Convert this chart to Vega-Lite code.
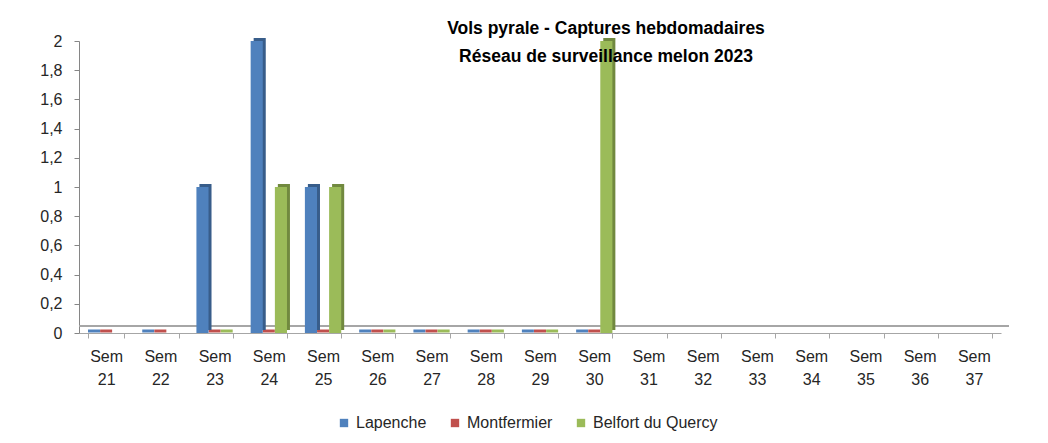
{
  "$schema": "https://vega.github.io/schema/vega-lite/v6.json",
  "width": 922,
  "height": 292,
  "autosize": {"type": "none"},
  "padding": {"left": 79, "top": 41, "right": 47, "bottom": 110},
  "background": "white",
  "config": {
    "locale": {"number": {"decimal": ",", "thousands": " ", "grouping": [3], "currency": ["", " €"]}},
    "view": {"stroke": null},
    "font": "Liberation Sans",
    "axisY": {
      "title": null,
      "values": [0, 0.2, 0.4, 0.6, 0.8, 1, 1.2, 1.4, 1.6, 1.8, 2],
      "format": ".1~f",
      "grid": false,
      "labelOverlap": false,
      "domainColor": "#868686",
      "tickColor": "#868686",
      "tickSize": 5,
      "labelFontSize": 16,
      "labelColor": "#262626",
      "labelPadding": 12
    },
    "legend": {
      "title": null,
      "orient": "none",
      "legendX": 257,
      "legendY": 374,
      "direction": "horizontal",
      "symbolType": "square",
      "symbolSize": 70,
      "symbolStrokeWidth": 0,
      "symbolOpacity": 1,
      "labelFontSize": 16,
      "labelColor": "#262626",
      "columnPadding": 20
    }
  },
  "title": {
    "text": ["Vols pyrale - Captures hebdomadaires", "Réseau de surveillance melon 2023"],
    "anchor": "middle",
    "dx": 66,
    "offset": -32,
    "fontSize": 17.5,
    "fontWeight": "bold",
    "color": "#000000",
    "lineHeight": 28
  },
  "data": {
    "values": [
      {"semaine": "Sem 21", "site": "Lapenche", "v": 0},
      {"semaine": "Sem 22", "site": "Lapenche", "v": 0},
      {"semaine": "Sem 23", "site": "Lapenche", "v": 1},
      {"semaine": "Sem 24", "site": "Lapenche", "v": 2},
      {"semaine": "Sem 25", "site": "Lapenche", "v": 1},
      {"semaine": "Sem 26", "site": "Lapenche", "v": 0},
      {"semaine": "Sem 27", "site": "Lapenche", "v": 0},
      {"semaine": "Sem 28", "site": "Lapenche", "v": 0},
      {"semaine": "Sem 29", "site": "Lapenche", "v": 0},
      {"semaine": "Sem 30", "site": "Lapenche", "v": 0},
      {"semaine": "Sem 21", "site": "Montfermier", "v": 0},
      {"semaine": "Sem 22", "site": "Montfermier", "v": 0},
      {"semaine": "Sem 23", "site": "Montfermier", "v": 0},
      {"semaine": "Sem 24", "site": "Montfermier", "v": 0},
      {"semaine": "Sem 25", "site": "Montfermier", "v": 0},
      {"semaine": "Sem 26", "site": "Montfermier", "v": 0},
      {"semaine": "Sem 27", "site": "Montfermier", "v": 0},
      {"semaine": "Sem 28", "site": "Montfermier", "v": 0},
      {"semaine": "Sem 29", "site": "Montfermier", "v": 0},
      {"semaine": "Sem 30", "site": "Montfermier", "v": 0},
      {"semaine": "Sem 23", "site": "Belfort du Quercy", "v": 0},
      {"semaine": "Sem 24", "site": "Belfort du Quercy", "v": 1},
      {"semaine": "Sem 25", "site": "Belfort du Quercy", "v": 1},
      {"semaine": "Sem 26", "site": "Belfort du Quercy", "v": 0},
      {"semaine": "Sem 27", "site": "Belfort du Quercy", "v": 0},
      {"semaine": "Sem 28", "site": "Belfort du Quercy", "v": 0},
      {"semaine": "Sem 29", "site": "Belfort du Quercy", "v": 0},
      {"semaine": "Sem 30", "site": "Belfort du Quercy", "v": 2}
    ]
  },
  "encoding": {
    "x": {
      "field": "semaine",
      "type": "nominal",
      "scale": {
        "domain": ["Sem 21", "Sem 22", "Sem 23", "Sem 24", "Sem 25", "Sem 26", "Sem 27", "Sem 28", "Sem 29", "Sem 30", "Sem 31", "Sem 32", "Sem 33", "Sem 34", "Sem 35", "Sem 36", "Sem 37"],
        "paddingInner": 0.33,
        "paddingOuter": 0.165
      },
      "axis": {
        "title": null,
        "labelAngle": 0,
        "labelExpr": "split(datum.label, ' ')",
        "labelFontSize": 16,
        "labelColor": "#262626",
        "labelLineHeight": 23,
        "labelPadding": 10,
        "labelBaseline": "top",
        "domainColor": "#A6A6A6",
        "tickColor": "#A6A6A6",
        "tickBand": "extent",
        "tickSize": 5
      }
    }
  },
  "layer": [
    {
      "mark": {"type": "rule", "yOffset": -7, "xOffset": 8, "color": "#A6A6A6", "strokeWidth": 1.5},
      "encoding": {"y": {"datum": 0, "type": "quantitative"}, "x": null}
    },
    {
      "transform": [{"filter": "datum.v == 0"}],
      "mark": {"type": "tick", "orient": "horizontal", "thickness": 3, "size": 12, "yOffset": -2, "opacity": 1},
      "encoding": {
        "xOffset": {"field": "site", "type": "nominal", "scale": {"domain": ["Lapenche", "Montfermier", "Belfort du Quercy"]}},
        "y": {"field": "v", "type": "quantitative"},
        "color": {"field": "site", "type": "nominal", "scale": {"domain": ["Lapenche", "Montfermier", "Belfort du Quercy"], "range": ["#4F81BD", "#C0504D", "#9BBB59"]}}
      }
    },
    {
      "layer": [
        {
          "mark": {"type": "bar", "yOffset": -3},
          "encoding": {
            "xOffset": {"field": "site", "type": "nominal", "scale": {"domain": ["Lapenche", "Montfermier", "Belfort du Quercy"], "range": [3, 39.3]}},
            "y": {"field": "v", "type": "quantitative"},
            "fill": {
              "condition": [
                {"test": "datum.site === 'Lapenche'", "value": "#385D8A"},
                {"test": "datum.site === 'Montfermier'", "value": "#8C3836"}
              ],
              "value": "#71893F"
            }
          }
        },
        {
          "mark": {"type": "bar"},
          "encoding": {
            "xOffset": {"field": "site", "type": "nominal", "scale": {"domain": ["Lapenche", "Montfermier", "Belfort du Quercy"]}},
            "y": {"field": "v", "type": "quantitative", "scale": {"domain": [0, 2]}},
            "color": {
              "field": "site",
              "type": "nominal",
              "scale": {"domain": ["Lapenche", "Montfermier", "Belfort du Quercy"], "range": ["#4F81BD", "#C0504D", "#9BBB59"]}
            }
          }
        }
      ],
      "resolve": {"scale": {"xOffset": "independent"}}
    }
  ]
}
